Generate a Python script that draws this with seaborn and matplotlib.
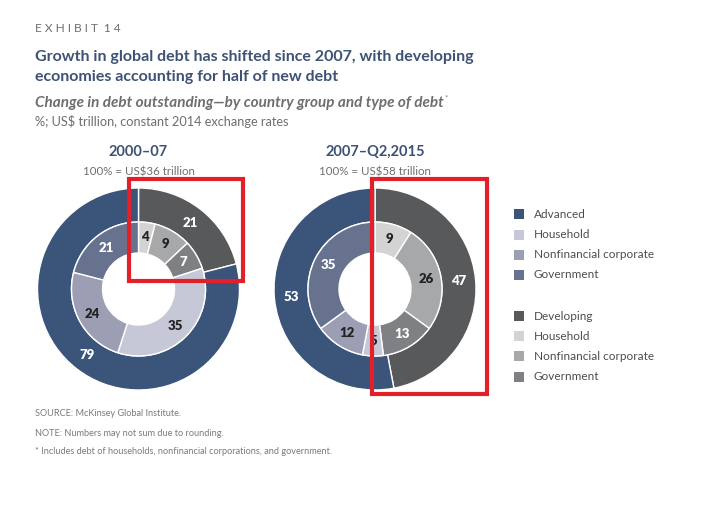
import numpy as np
import matplotlib
matplotlib.use("Agg")
import matplotlib.pyplot as plt
import seaborn as sns
from matplotlib.patches import Rectangle

sns.set_style("white")
plt.rcParams['font.family'] = ['Lato', 'DejaVu Sans']

# ---- data ----
panel_titles = ["2000–07", "2007–Q2,2015"]
panel_totals = ["100% = US$36 trillion", "100% = US$58 trillion"]
groups = ["Developing", "Advanced"]
outer_left = [21, 79]
outer_right = [47, 53]
inner_labels = ["Dev Household", "Dev Nonfinancial corporate", "Dev Government",
                "Adv Household", "Adv Nonfinancial corporate", "Adv Government"]
inner_left = [4, 9, 7, 35, 24, 21]
inner_right = [9, 26, 13, 5, 12, 35]
legend_adv = ["Advanced", "Household", "Nonfinancial corporate", "Government"]
legend_dev = ["Developing", "Household", "Nonfinancial corporate", "Government"]

# ---- styles ----
NAVY = "#3b5479"
ADV_HH, ADV_NF, ADV_GOV = "#c6c8d8", "#9c9fb4", "#67728f"
DEV = "#58595b"
DEV_HH, DEV_NF, DEV_GOV = "#d3d3d4", "#a7a8aa", "#7f8083"
outer_colors = [DEV, NAVY]
inner_colors = [DEV_HH, DEV_NF, DEV_GOV, ADV_HH, ADV_NF, ADV_GOV]
inner_txt = ["#222222", "#222222", "white", "#222222", "#222222", "white"]
TITLE_C = "#3d5275"
GRAY = "#6d6e71"

W, H = 709, 507
fig = plt.figure(figsize=(W / 100, H / 100), dpi=100)

def fx(px):
    return px / W

def fy(py):
    return 1 - py / H

R_OUT = 101.0
r_in_outer = 67.0 / R_OUT
r_hole = 36.0 / R_OUT


def donut(cx, cy, outer, inner):
    ax = fig.add_axes([fx(cx - R_OUT), fy(cy + R_OUT), 2 * R_OUT / W, 2 * R_OUT / H])
    wp = dict(edgecolor="white", linewidth=1.0)
    ax.pie(outer, radius=1.0, colors=outer_colors, startangle=90, counterclock=False,
           wedgeprops=dict(width=1.0 - r_in_outer, **wp))
    ax.pie(inner, radius=r_in_outer, colors=inner_colors, startangle=90, counterclock=False,
           wedgeprops=dict(width=r_in_outer - r_hole, **wp))
    ax.set_xlim(-1, 1)
    ax.set_ylim(-1, 1)
    ax.set_aspect("equal")
    ax.axis("off")
    # labels
    tot = sum(outer)
    cum = 0
    rm = (1.0 + r_in_outer) / 2
    for v in outer:
        a = np.deg2rad(90 - (cum + v / 2) / tot * 360)
        ax.text(rm * np.cos(a), rm * np.sin(a), str(v), color="white", fontsize=9.5,
                fontweight="heavy", ha="center", va="center")
        cum += v
    tot = sum(inner)
    cum = 0
    rm = (r_in_outer + r_hole) / 2 + 0.01
    for v, c in zip(inner, inner_txt):
        a = np.deg2rad(90 - (cum + v / 2) / tot * 360)
        ax.text(rm * np.cos(a), rm * np.sin(a), str(v), color=c, fontsize=9.5,
                fontweight="heavy", ha="center", va="center")
        cum += v
    return ax

donut(138.5, 289, outer_left, inner_left)
donut(375, 289, outer_right, inner_right)

# panel headers
for cx, t, s in zip([138.5, 375], panel_titles, panel_totals):
    fig.text(fx(cx), fy(152), t, ha="center", va="center", fontsize=10.5,
             fontweight="bold", color=TITLE_C)
    fig.text(fx(cx), fy(172), s, ha="center", va="center", fontsize=8.3, color=GRAY)

# titles
fig.text(fx(35), fy(29), "E X H I B I T  1 4", fontsize=8.6, color=GRAY, va="center", ha="left")
fig.text(fx(35), fy(57), "Growth in global debt has shifted since 2007, with developing",
         fontsize=11.5, fontweight="bold", color=TITLE_C, va="center", ha="left")
fig.text(fx(35), fy(77), "economies accounting for half of new debt",
         fontsize=11.5, fontweight="bold", color=TITLE_C, va="center", ha="left")
fig.text(fx(35), fy(103), "Change in debt outstanding—by country group and type of debt",
         fontsize=11, fontweight="bold", fontstyle="italic", color=GRAY, va="center", ha="left")
fig.text(fx(445), fy(98), "*", fontsize=5.5, color=GRAY, va="center", ha="left")
fig.text(fx(35), fy(122), "%; US$ trillion, constant 2014 exchange rates",
         fontsize=9.2, color=GRAY, va="center", ha="left")

# legend
leg_ax = fig.add_axes([0, 0, 1, 1], facecolor="none")
leg_ax.set_xlim(0, W)
leg_ax.set_ylim(H, 0)
leg_ax.axis("off")
rows_y = [214, 235, 255, 275, 316, 336, 356, 377]
sw_colors = [NAVY, ADV_HH, ADV_NF, ADV_GOV, DEV, DEV_HH, DEV_NF, DEV_GOV]
for y, c, t in zip(rows_y, sw_colors, legend_adv + legend_dev):
    leg_ax.add_patch(Rectangle((514, y - 5), 10, 10, facecolor=c, edgecolor="none"))
    leg_ax.text(534, y, t, fontsize=8.5, color="#4d4d4f", va="center", ha="left")

# red highlight boxes
leg_ax.add_patch(Rectangle((129, 179), 114, 102, fill=False, edgecolor="#e3202a", linewidth=3))
leg_ax.add_patch(Rectangle((372, 179), 115, 215, fill=False, edgecolor="#e3202a", linewidth=3))

# footnotes
for y, t in zip([413, 433, 452], ["SOURCE: McKinsey Global Institute.",
                                  "NOTE: Numbers may not sum due to rounding.",
                                  "* Includes debt of households, nonfinancial corporations, and government."]):
    fig.text(fx(35), fy(y), t, fontsize=6.6, color="#7a7a7c", va="center", ha="left")

fig.savefig("out.png", dpi=100)
